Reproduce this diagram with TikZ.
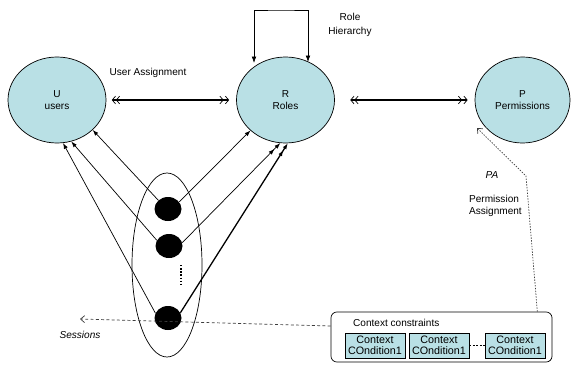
\documentclass[tikz,border=0pt]{standalone}
\usepackage{fontspec}
\setmainfont{Liberation Sans}
\usetikzlibrary{shapes.geometric,arrows.meta,calc}
\definecolor{setfill}{RGB}{185,224,229}
\definecolor{dashgray}{RGB}{60,60,60}

\begin{document}
\begin{tikzpicture}[x=0.03cm,y=-0.03cm,
  every node/.style={font=\fontsize{8.6}{10.6}\selectfont},
  setnode/.style={ellipse,draw,line width=0.6pt,fill=setfill,minimum width=2.94cm,
    minimum height=2.58cm,inner sep=0pt,align=center},
  sessdot/.style={ellipse,fill=black,minimum width=0.81cm,minimum height=0.72cm,inner sep=0pt},
  condbox/.style={draw,line width=0.5pt,fill=setfill,minimum width=1.8cm,minimum height=0.75cm,
    inner sep=0pt,align=center,font=\fontsize{9.2}{9.6}\selectfont},
  link/.style={line width=0.6pt,-{Latex[length=5pt,width=3.6pt]}},
  dbllink/.style={line width=0.6pt,-{Latex[length=5pt,width=3.6pt,sep=2pt]Latex[length=5pt,width=3.6pt]}},
  biarrow/.style={line width=1pt,{Straight Barb[length=2.8pt,width=6.5pt,line width=0.6pt,sep=1.2pt]Straight Barb[length=2.8pt,width=6.5pt,line width=0.6pt]}-{Straight Barb[length=2.8pt,width=6.5pt,line width=0.6pt,sep=1.2pt]Straight Barb[length=2.8pt,width=6.5pt,line width=0.6pt]}},
  hier/.style={line width=0.6pt,{Latex[length=5.5pt,width=4pt]}-{Latex[length=5.5pt,width=4pt]}},
  dasharrow/.style={line width=0.6pt,dashgray,dash pattern=on 2.5pt off 2pt,-{Straight Barb[length=3.5pt,width=6pt]}},
  dotarrow/.style={line width=0.6pt,dashgray,dash pattern=on 1.2pt off 1.2pt,-{Straight Barb[length=3.5pt,width=6pt]}}
]
\useasboundingbox (0,0) rectangle (571,365);
\fill[white] (0,0) rectangle (571,365);

% users, roles, permissions
\node[setnode] (U) at (57,100) {U\\users};
\node[setnode] (R) at (285.5,100) {R\\Roles};
\node[setnode,minimum width=2.85cm] (P) at (522.5,100) {P\\Permissions};

% sessions
\node[ellipse,draw,line width=0.6pt,minimum width=2.1cm,minimum height=5.52cm,inner sep=0pt] (S) at (167,265) {};
\node[sessdot] (s1) at (168,209) {};
\node[sessdot] (s2) at (169,246) {};
\node[sessdot] (s3) at (168,318) {};
\draw[line width=1pt,dash pattern=on 1.2pt off 1.5pt] (181,265) -- (181,285);

% labels
\node (ua) at (148,73) {User Assignment};
\node[align=center,font=\fontsize{8.6}{11.4}\selectfont] (rh) at (350,25) {Role\\Hierarchy};
\node[font=\fontsize{8.6}{10}\itshape] (pa) at (492,175) {PA};
\node[align=left,anchor=west] (perm) at (465,206) {Permission\\Assignment};
\node[font=\fontsize{8.6}{10}\itshape] (sess) at (80,335) {Sessions};

% context constraints
\node[draw,line width=0.6pt,rounded corners=5pt,minimum width=6.63cm,minimum height=1.5cm] (ctx) at (441.5,337) {};
\node[anchor=west] (ctxl) at (349,323) {Context constraints};
\node[condbox] (c1) at (375,345.5) {Context\\COndition1};
\node[condbox] (c2) at (439,345.5) {Context\\COndition1};
\node[condbox] (c3) at (515,345.5) {Context\\COndition1};
\draw[line width=0.6pt,dash pattern=on 1.5pt off 1.5pt] (c2.east) -- (c3.west);

% user and permission assignment
\draw[biarrow,shorten <=0.12cm,shorten >=0.21cm] (U.east) -- (R.west);
\draw[biarrow,shorten <=0.42cm,shorten >=0.21cm] (R.east) -- (P.west);

% role hierarchy
\coordinate (rhL) at ($(R.center)+(-31.5,-37)$);
\coordinate (rhR) at ($(R.center)+(22.5,-38)$);
\coordinate (rhT) at (281,10);
\draw[hier] (rhL) |- (rhT) -| (rhR);

% session to user links
\draw[link] (s1.138) -- (U.-40);
\draw[link] (s2.155) -- (U.-71);
\draw[link] (s3.159) -- (U.-82);

% session to role links
\draw[link] (s1.32) -- (R.-139);
\draw[dbllink] (s2.14) -- (R.-97);
\draw[dbllink,line width=1.1pt] (s3.23) -- (R.-87);

% constraints
\coordinate (paS) at ($(ctx.north east)+(-15,0)$);
\coordinate (paB) at (526,176);
\coordinate (paT) at ($(P.center)+(-45.5,28)$);
\draw[dotarrow] (paS) -- (paB) -- (paT);
\coordinate (sessEnd) at (80,319);
\draw[dasharrow] ($(ctx.west)+(0,-11)$) -- (sessEnd);
\end{tikzpicture}
\end{document}
